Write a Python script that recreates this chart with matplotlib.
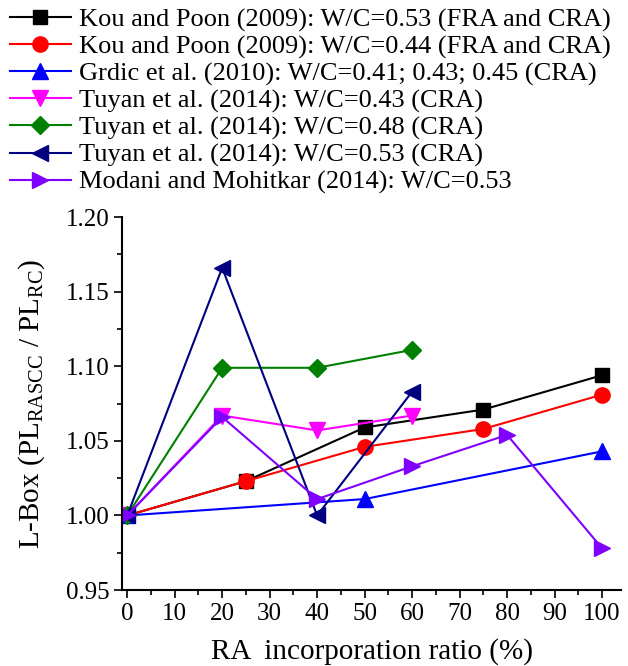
import numpy as np
import matplotlib
matplotlib.use('Agg')
import matplotlib.pyplot as plt
from matplotlib.ticker import MultipleLocator

plt.rcParams['font.family'] = 'Liberation Serif'
plt.rcParams['mathtext.fontset'] = 'custom'
plt.rcParams['mathtext.rm'] = 'Liberation Serif'

kou53_x = [0, 25, 50, 75, 100]
kou53_y = [1.000, 1.023, 1.059, 1.071, 1.094]
kou44_x = [0, 25, 50, 75, 100]
kou44_y = [1.000, 1.023, 1.046, 1.058, 1.081]
grdic_x = [0, 50, 100]
grdic_y = [1.000, 1.011, 1.043]
tuyan43_x = [0, 20, 40, 60]
tuyan43_y = [1.000, 1.067, 1.057, 1.067]
tuyan48_x = [0, 20, 40, 60]
tuyan48_y = [1.000, 1.099, 1.099, 1.111]
tuyan53_x = [0, 20, 40, 60]
tuyan53_y = [1.000, 1.166, 1.000, 1.083]
modani_x = [0, 20, 40, 60, 80, 100]
modani_y = [1.000, 1.066, 1.011, 1.033, 1.054, 0.978]

labels = [
    'Kou and Poon (2009): W/C=0.53 (FRA and CRA)',
    'Kou and Poon (2009): W/C=0.44 (FRA and CRA)',
    'Grdic et al. (2010): W/C=0.41; 0.43; 0.45 (CRA)',
    'Tuyan et al. (2014): W/C=0.43 (CRA)',
    'Tuyan et al. (2014): W/C=0.48 (CRA)',
    'Tuyan et al. (2014): W/C=0.53 (CRA)',
    'Modani and Mohitkar (2014): W/C=0.53',
]

series = [
    (kou53_x, kou53_y, 'black', 's', 10),
    (kou44_x, kou44_y, 'red', 'o', 11),
    (grdic_x, grdic_y, 'blue', '^', 12),
    (tuyan43_x, tuyan43_y, 'magenta', 'v', 12),
    (tuyan48_x, tuyan48_y, 'green', 'D', 9.5),
    (tuyan53_x, tuyan53_y, 'navy', '<', 12),
    (modani_x, modani_y, '#8000ff', '>', 12),
]

fig = plt.figure(figsize=(6.28, 6.66), dpi=100)
ax = fig.add_axes([0.195, 0.114, 0.794, 0.56])

handles = []
for (x, y, c, m, ms), lab in zip(series, labels):
    h, = ax.plot(x, y, color=c, marker=m, markersize=ms, linewidth=1.5, label=lab)
    handles.append(h)

ax.set_xlim(-1, 104)
ax.set_ylim(0.95, 1.20)
ax.xaxis.set_major_locator(MultipleLocator(10))
ax.xaxis.set_minor_locator(MultipleLocator(5))
ax.yaxis.set_major_locator(MultipleLocator(0.05))
ax.yaxis.set_minor_locator(MultipleLocator(0.025))
ax.yaxis.set_major_formatter(matplotlib.ticker.FormatStrFormatter('%.2f'))
ax.spines['top'].set_visible(False)
ax.spines['right'].set_visible(False)
ax.spines['left'].set_linewidth(1.5)
ax.spines['bottom'].set_linewidth(1.5)
ax.tick_params(which='major', length=6, width=1.2, labelsize=18)
ax.tick_params(which='minor', length=3.5, width=1.2)

ax.set_xlabel('RA  incorporation ratio (%)', fontsize=21, labelpad=9)
ax.set_ylabel(r'L-Box (PL$_{\mathrm{RASCC}}$ / PL$_{\mathrm{RC}}$)', fontsize=21, labelpad=13)

fig.legend(handles=handles, loc='upper left', bbox_to_anchor=(10 / 628, 1 - 8 / 666),
           frameon=False, fontsize=19, handlelength=2.3, handletextpad=0.3,
           labelspacing=0.12, borderpad=0, borderaxespad=0)

fig.savefig('out.png', dpi=100)
